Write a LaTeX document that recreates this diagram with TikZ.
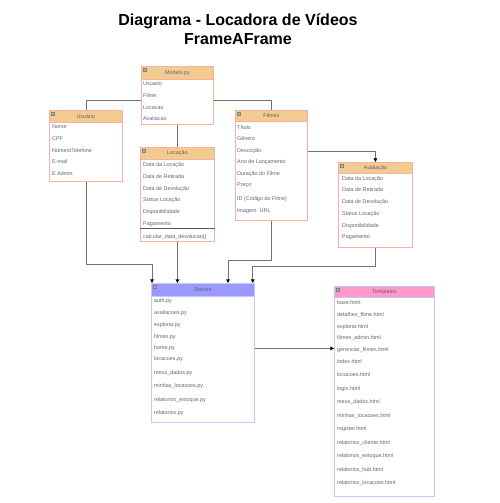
\documentclass[tikz,border=0pt]{standalone}
\usepackage{fontspec}
\setmainfont{Liberation Sans}
\usepackage{xcolor}
\usepackage{tikz}
\usetikzlibrary{calc,arrows.meta}
\definecolor{txt}{HTML}{626276}
\definecolor{wire}{HTML}{707070}
\definecolor{headorange}{HTML}{F3CB8E}
\definecolor{salmon}{HTML}{F2B3A3}
\definecolor{lavender}{HTML}{9999FF}
\definecolor{lavline}{HTML}{C8C8F8}
\definecolor{pinkhead}{HTML}{FF99CC}
\tikzset{
  box/.style={draw=salmon, fill=white, line width=0.8pt, anchor=north west, inner sep=0pt},
  head/.style={draw=salmon, fill=headorange, line width=0.8pt, anchor=north west, inner sep=0pt,
    text=txt, font=\fontsize{5.4}{6}\selectfont},
  row/.style={anchor=west, inner sep=0pt, text=txt, font=\fontsize{5.4}{6}\selectfont},
  icon/.style={fill=black!30, draw=black!50, line width=0.3pt},
  link/.style={draw=wire, line width=0.8pt},
  arr/.style={link, -{Triangle[length=3.6pt,width=3.6pt,color=black]}},
  sep/.style={draw=black!65, line width=0.8pt},
  ttl/.style={font=\fontsize{16}{19}\selectfont\bfseries, text=black, inner sep=0pt},
}

\begin{document}
\begin{tikzpicture}[x=1pt,y=-1pt]
  \useasboundingbox (0,0) rectangle (499,503);
  \fill[white] (0,0) rectangle (499,503);
  % title
  \node[ttl] (title1) at (238,21) {Diagrama - Locadora de Vídeos};
  \node[ttl] (title2) at (238,39) {FrameAFrame};

  % Models.py
  \node[box, minimum width=72pt, minimum height=58pt] (models) at (141,66) {};
  \node[head, minimum width=72pt, minimum height=13pt] (models-h) at (models.north west) {Models.py};
  \foreach \t/\y [count=\i] in {Usuario/84, Filme/96, Locacao/108, Avaliacao/119}
    \node[row] (models-\i) at (143,\y) {\t};

  % Usuario
  \node[box, minimum width=73pt, minimum height=71pt] (usuario) at (49,110) {};
  \node[head, minimum width=73pt, minimum height=12pt] (usuario-h) at (usuario.north west) {Usuário};
  \foreach \t/\y [count=\i] in {Nome/127, CPF/139, NúmeroTelefone/151, E-mail/162, E Admin/174}
    \node[row] (usuario-\i) at (52,\y) {\t};

  % Locacao
  \node[box, minimum width=74pt, minimum height=94pt] (locacao) at (140,147) {};
  \node[head, minimum width=74pt, minimum height=12pt] (locacao-h) at (locacao.north west) {Locação};
  \foreach \t/\y [count=\i] in {Data da Locação/165, Data de Retirada/177, Data de Devolução/189,
      Status Locação/200, Disponibilidade/212, Pagamento/224}
    \node[row] (locacao-\i) at (143,\y) {\t};
  \draw[sep] (locacao.west |- 0,228) -- (locacao.east |- 0,228);
  \node[row] (locacao-m) at (143,237) {calcular\_data\_devolucao()};

  % Filmes
  \node[box, minimum width=72pt, minimum height=110pt] (filmes) at (235,110) {};
  \node[head, minimum width=72pt, minimum height=11pt] (filmes-h) at (filmes.north west) {Filmes};
  \foreach \t/\y [count=\i] in {Título/128, Gênero/139, Descrição/151, Ano de Lançamento/162,
      Duração do Filme/174, Preço/185, ID (Código do Filme)/199, Imagem\ \ URL/211}
    \node[row] (filmes-\i) at (237,\y) {\t};

  % Avaliacao
  \node[box, minimum width=74pt, minimum height=85pt] (avaliacao) at (338,162) {};
  \node[head, minimum width=74pt, minimum height=11pt] (avaliacao-h) at (avaliacao.north west) {Avaliação};
  \foreach \t/\y [count=\i] in {Data da Locação/179, Data de Retirada/190, Data de Devolução/202,
      Status Locação/214, Disponibilidade/226, Pagamento/237}
    \node[row] (avaliacao-\i) at (342,\y) {\t};

  % Routes
  \node[box, draw=lavline, minimum width=103pt, minimum height=139pt] (routes) at (151,283) {};
  \node[head, draw=lavline, fill=lavender, minimum width=103pt, minimum height=13pt] (routes-h)
    at (routes.north west) {Routes};
  \foreach \t/\y [count=\i] in {auth.py/301, avaliacoes.py/313, explorar.py/325, filmes.py/337,
      home.py/348, locacoes.py/359, meus\_dados.py/373, minhas\_locacoes.py/386,
      relatorios\_estoque.py/400, relatorios.py/413}
    \node[row] (routes-\i) at (154,\y) {\t};

  % Templates
  \node[box, draw=lavline, minimum width=100pt, minimum height=210pt] (templates) at (334,286) {};
  \node[head, draw=lavline, fill=pinkhead, minimum width=100pt, minimum height=11pt] (templates-h)
    at (templates.north west) {Templates};
  \foreach \t/\y [count=\i] in {base.html/303, detalhes\_filme.html/315, explorar.html/327,
      filmes\_admin.html/338, gerenciar\_filmes.html/350, index.html/362, locacoes.html/375,
      login.html/389, meus\_dados.html/402, minhas\_locacoes.html/416, register.html/429,
      relatorios\_cliente.html/443, relatorios\_estoque.html/456, relatorios\_hub.html/470,
      relatorios\_locacoes.html/483}
    \node[row] (templates-\i) at (337,\y) {\t};

  % header icons
  \foreach \N in {models,usuario,locacao,filmes,avaliacao,routes,templates}
    \draw[icon] ($(\N.north west)+(2,2)$) rectangle ++(3,3);

  % links between models
  \draw[link] ([yshift=-5pt]models.west) -| (usuario.north);
  \draw[link] ([yshift=-5pt]models.east) -| (filmes.north);
  \draw[link] (models.south) -- (locacao.north);
  \draw[arr] ([yshift=14pt]filmes.east) -| (avaliacao.north);

  % into routes
  \coordinate (r1) at ([xshift=1pt]routes.north west);
  \coordinate (r3) at ([xshift=77pt]routes.north west);
  \coordinate (r4) at ([xshift=-2pt]routes.north east);
  \draw[arr] (usuario.south) -- (usuario.south |- 0,264) -| (r1);
  \draw[arr] (locacao.south) -- (locacao.south |- routes.north);
  \draw[arr] (filmes.south) -- (filmes.south |- 0,260) -| (r3);
  \draw[arr] (avaliacao.south) -- (avaliacao.south |- 0,266) -| (r4);
  \coordinate (rt) at ([yshift=4.5pt]routes.east);
  \draw[arr] (rt) -- (rt -| templates.west);
\end{tikzpicture}
\end{document}
